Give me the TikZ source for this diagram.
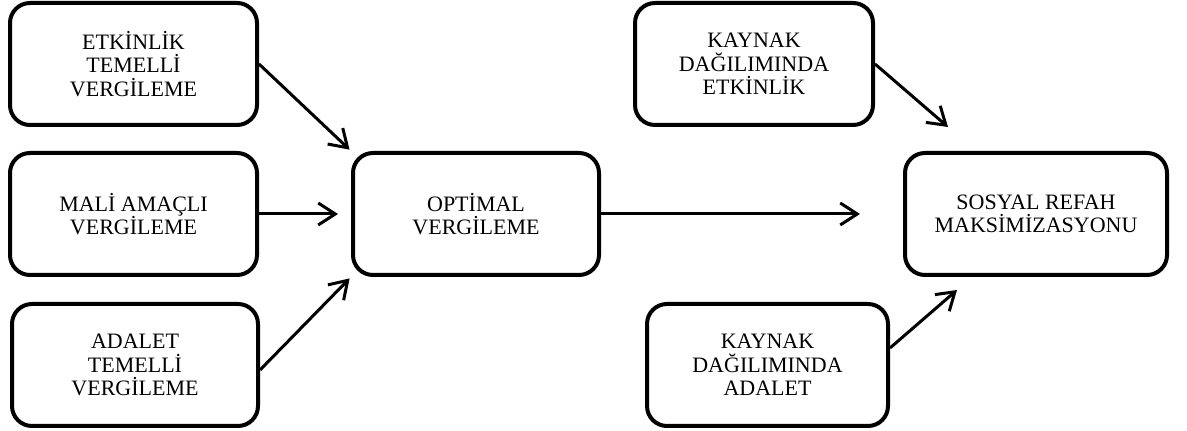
\documentclass[tikz,border=0pt]{standalone}
\usepackage{fontspec}
\setmainfont{Liberation Serif}
\usetikzlibrary{arrows.meta,positioning}

\begin{document}
\begin{tikzpicture}[x=0.5pt,y=-0.5pt,
    kutu/.style={draw, line width=2pt, rounded corners=10pt, align=center,
        minimum height=61pt, inner sep=0pt, font=\fontsize{11}{11.7}\selectfont},
    ok/.style={-{Straight Barb[length=8.5pt,width=11pt]}, line width=1.5pt}]
            \useasboundingbox (0,0) rectangle (1187,431);

            % Vergileme yaklasimlari
            \node[kutu, minimum width=123.5pt] (etkin) at (133.5,64) {ETKİNLİK\\TEMELLİ\\VERGİLEME};
            \node[kutu, minimum width=123.5pt] (mali) at (133.5,214) {MALİ AMAÇLI\\VERGİLEME};
            \node[kutu, minimum width=123pt] (adalet) at (135,365) {ADALET\\TEMELLİ\\VERGİLEME};

            % Orta kutu
            \node[kutu, minimum width=123pt] (optimal) at (476,214) {OPTİMAL\\VERGİLEME};

            % Kaynak dagilimi ve refah
            \node[kutu, minimum width=119pt] (kdetkin) at (754,64) {KAYNAK\\DAĞILIMINDA\\ETKİNLİK};
            \node[kutu, minimum width=131pt] (refah) at (1036,214) {SOSYAL REFAH\\MAKSİMİZASYONU};
            \node[kutu, minimum width=120.5pt] (kdadalet) at (767.5,365) {KAYNAK\\DAĞILIMINDA\\ADALET};

            % Oklar
            \coordinate (etkinucu) at (948,127);
            \coordinate (adaletucu) at (957,290);
            \draw[ok, shorten >=1pt] (etkin.east) -- (optimal.north west);
            \draw[ok, shorten >=6.5pt] (mali.east) -- (optimal.west);
            \draw[ok, shorten >=1pt] ([yshift=-2.5pt]adalet.east) -- (optimal.south west);
            \draw[ok, shorten >=21.5pt] (optimal.east) -- (refah.west);
            \draw[ok] (kdetkin.east) -- (etkinucu);
            \draw[ok] ([yshift=8.5pt]kdadalet.east) -- (adaletucu);
        \end{tikzpicture}
\end{document}
